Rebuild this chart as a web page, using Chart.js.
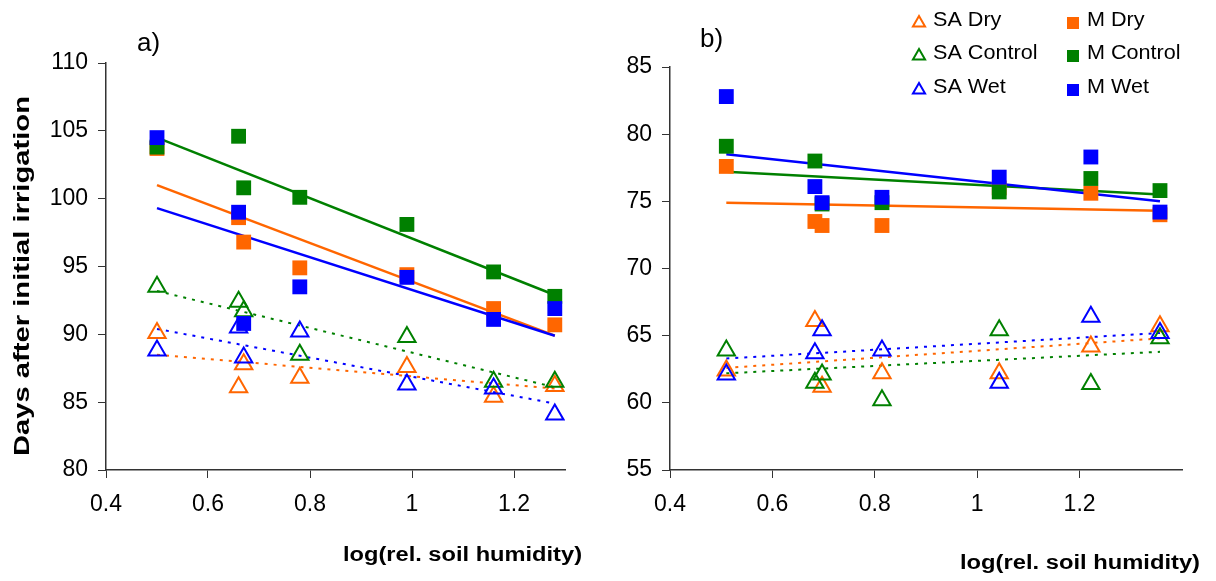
<!DOCTYPE html>
<html>
<head>
<meta charset="utf-8">
<script src="https://cdn.jsdelivr.net/npm/chart.js@4/dist/chart.umd.min.js"></script>
<style>
  html, body { margin: 0; padding: 0; background: #fff; }
  #wrap { position: relative; width: 1216px; height: 581px; }
  .panel { position: absolute; top: 0; width: 608px; height: 581px; }
</style>
</head>
<body>
<div id="wrap">
  <div class="panel" style="left:0"><canvas id="chartA"></canvas></div>
  <div class="panel" style="left:608px"><canvas id="chartB"></canvas></div>
</div>
<script>
// panel a) values
const humA = [0.50, 0.66, 0.67, 0.78, 0.99, 1.16, 1.28];
const saDryA = [90.1, 86.1, 87.8, 86.8, 87.6, 85.4, 86.2];
const saControlA = [93.5, 92.4, 91.7, 88.5, 89.8, 86.5, 86.5];
const saWetA = [88.8, 90.5, 88.3, 90.2, 86.3, 86.0, 84.1];
const mDryA = [103.7, 98.6, 96.8, 94.9, 94.4, 91.9, 90.7];
const mControlA = [103.8, 104.6, 100.8, 100.1, 98.1, 94.6, 92.8];
const mWetA = [104.5, 99.0, 90.8, 93.5, 94.2, 91.1, 91.9];
// fitted lines, end points
const fitXA = [0.50, 1.28];
const fitSaDryA = [88.5, 86.0];
const fitSaControlA = [93.2, 86.1];
const fitSaWetA = [90.4, 84.9];
const fitMDryA = [101.0, 89.9];
const fitMControlA = [104.5, 92.9];
const fitMWetA = [99.3, 89.9];

// panel b)
const humB = [0.51, 0.683, 0.697, 0.814, 1.043, 1.222, 1.357];
const saDryB = [62.4, 66.1, 61.2, 62.2, 62.2, 64.2, 65.7];
const saControlB = [63.9, 61.5, 62.1, 60.2, 65.4, 61.4, 64.8];
const saWetB = [62.1, 63.7, 65.4, 63.9, 61.5, 66.4, 65.2];
const mDryB = [77.6, 73.5, 73.2, 73.2, 76.0, 75.6, 74.0];
const mControlB = [79.1, 78.0, 74.8, 74.9, 75.7, 76.7, 75.8];
const mWetB = [82.8, 76.1, 74.9, 75.3, 76.8, 78.3, 74.2];
const fitXB = [0.51, 1.357];
const fitSaDryB = [62.6, 64.8];
const fitSaControlB = [62.2, 63.8];
const fitSaWetB = [63.3, 65.2];
const fitMDryB = [74.9, 74.3];
const fitMControlB = [77.2, 75.5];
const fitMWetB = [78.5, 75.0];

const seriesNames = ['SA Dry', 'SA Control', 'SA Wet', 'M Dry', 'M Control', 'M Wet'];
const xTicks = [0.4, 0.6, 0.8, 1, 1.2];

const orange = '#ff6600', green = '#008000', blue = '#0000ff';
const seriesColours = [orange, green, blue, orange, green, blue];
const FONT = '"Liberation Sans", Arial, sans-serif';

function pts(xs, ys) {
  return xs.map((x, i) => ({x: x, y: ys[i]}));
}

function buildDatasets(xs, series, fitX, fits) {
  const sets = [];
  // M squares on top, wet over control over dry
  for (let i = 5; i >= 0; i--) {
    const sa = i < 3;
    sets.push({
      label: seriesNames[i],
      data: pts(xs, series[i]),
      pointStyle: sa ? 'triangle' : 'rect',
      pointRadius: sa ? 10 : 10.5,
      pointHoverRadius: sa ? 10 : 10.5,
      borderWidth: sa ? 2 : 0,
      borderColor: seriesColours[i],
      backgroundColor: sa ? 'rgba(0,0,0,0)' : seriesColours[i],
      showLine: false
    });
  }
  for (let i = 5; i >= 0; i--) {
    const sa = i < 3;
    sets.push({
      label: seriesNames[i] + ' fit',
      data: pts(fitX, fits[i]),
      showLine: true,
      pointRadius: 0,
      borderColor: seriesColours[i],
      borderWidth: sa ? 2 : 2.5,
      borderDash: sa ? [3, 6] : [],
      fill: false
    });
  }
  return sets;
}

// free text (titles), stretched to a given length like the original
const textPlugin = {
  id: 'panelText',
  afterDraw(chart, args, opts) {
    const ctx = chart.ctx;
    (opts.items || []).forEach(t => {
      ctx.save();
      ctx.font = t.font;
      ctx.fillStyle = '#000';
      ctx.textBaseline = 'middle';
      const w = ctx.measureText(t.text).width;
      const sx = t.width ? t.width / w : 1;
      ctx.translate(t.x, t.y);
      if (t.rotate) ctx.rotate(t.rotate);
      ctx.scale(sx, 1);
      ctx.textAlign = t.align || 'left';
      ctx.fillText(t.text, 0, 0);
      ctx.restore();
    });
  }
};

const legendPlugin = {
  id: 'gridLegend',
  afterDraw(chart, args, opts) {
    if (!opts.display) return;
    const ctx = chart.ctx;
    const order = [0, 3, 1, 4, 2, 5];
    order.forEach((s, k) => {
      const col = k % 2, row = Math.floor(k / 2);
      const x = opts.colX[col], y = opts.rowY[row];
      const sa = s < 3;
      ctx.save();
      ctx.fillStyle = sa ? 'rgba(0,0,0,0)' : seriesColours[s];
      ctx.strokeStyle = seriesColours[s];
      ctx.lineWidth = 2;
      Chart.helpers.drawPoint(ctx, {
        pointStyle: sa ? 'triangle' : 'rect',
        radius: sa ? 7 : 8.5,
        borderWidth: sa ? 2 : 0,
        rotation: 0
      }, x, y + 3);
      ctx.fillStyle = '#000';
      ctx.font = '20px ' + FONT;
      ctx.textBaseline = 'middle';
      ctx.translate(x + 14, y);
      ctx.scale(1.08, 1);
      ctx.fillText(seriesNames[s], 0, 0);
      ctx.restore();
    });
  }
};

function scales(yMin, yMax, xMax, yWidth) {
  const tickFont = {family: FONT, size: 23};
  return {
    x: {
      type: 'linear', min: 0.4, max: xMax,
      afterBuildTicks: s => { s.ticks = xTicks.map(v => ({value: v})); },
      afterFit: s => { s.height = 111; },
      ticks: {font: tickFont, color: '#000', padding: 13, maxRotation: 0,
        callback: v => String(+v.toFixed(2))},
      grid: {drawOnChartArea: false, drawTicks: true, tickLength: 8, color: '#333'},
      border: {color: '#333', width: 1.5}
    },
    y: {
      min: yMin, max: yMax,
      afterFit: s => { s.width = yWidth; },
      ticks: {stepSize: 5, font: tickFont, color: '#000', padding: 10},
      grid: {drawOnChartArea: false, drawTicks: true, tickLength: 8, color: '#333'},
      border: {color: '#333', width: 1.5}
    }
  };
}

const common = {
  responsive: true,
  maintainAspectRatio: false,
  animation: false,
  events: []
};

new Chart(document.getElementById('chartA'), {
  type: 'scatter',
  data: {datasets: buildDatasets(humA,
    [saDryA, saControlA, saWetA, mDryA, mControlA, mWetA], fitXA,
    [fitSaDryA, fitSaControlA, fitSaWetA, fitMDryA, fitMControlA, fitMWetA])},
  options: Object.assign({}, common, {
    layout: {padding: {top: 63, right: 43, left: 0, bottom: 0}},
    scales: scales(80, 110, 1.3, 106),
    plugins: {
      legend: {display: false},
      tooltip: {enabled: false},
      panelText: {items: [
        {text: 'a)', x: 137, y: 44, font: '26px ' + FONT},
        {text: 'Days after initial irrigation', x: 23, y: 276, rotate: -Math.PI / 2,
          align: 'center', width: 360, font: 'bold 22px ' + FONT},
        {text: 'log(rel. soil humidity)', x: 343, y: 555, width: 239, font: 'bold 20px ' + FONT}
      ]},
      gridLegend: {display: false}
    }
  }),
  plugins: [textPlugin, legendPlugin]
});

new Chart(document.getElementById('chartB'), {
  type: 'scatter',
  data: {datasets: buildDatasets(humB,
    [saDryB, saControlB, saWetB, mDryB, mControlB, mWetB], fitXB,
    [fitSaDryB, fitSaControlB, fitSaWetB, fitMDryB, fitMControlB, fitMWetB])},
  options: Object.assign({}, common, {
    layout: {padding: {top: 67, right: 34, left: 0, bottom: 0}},
    scales: scales(55, 85, 1.4, 62),
    plugins: {
      legend: {display: false},
      tooltip: {enabled: false},
      panelText: {items: [
        {text: 'b)', x: 92, y: 40, font: '26px ' + FONT},
        {text: 'log(rel. soil humidity)', x: 352, y: 563, width: 240, font: 'bold 20px ' + FONT}
      ]},
      gridLegend: {display: true, colX: [311, 465], rowY: [20, 53, 87]}
    }
  }),
  plugins: [textPlugin, legendPlugin]
});
</script>
</body>
</html>
